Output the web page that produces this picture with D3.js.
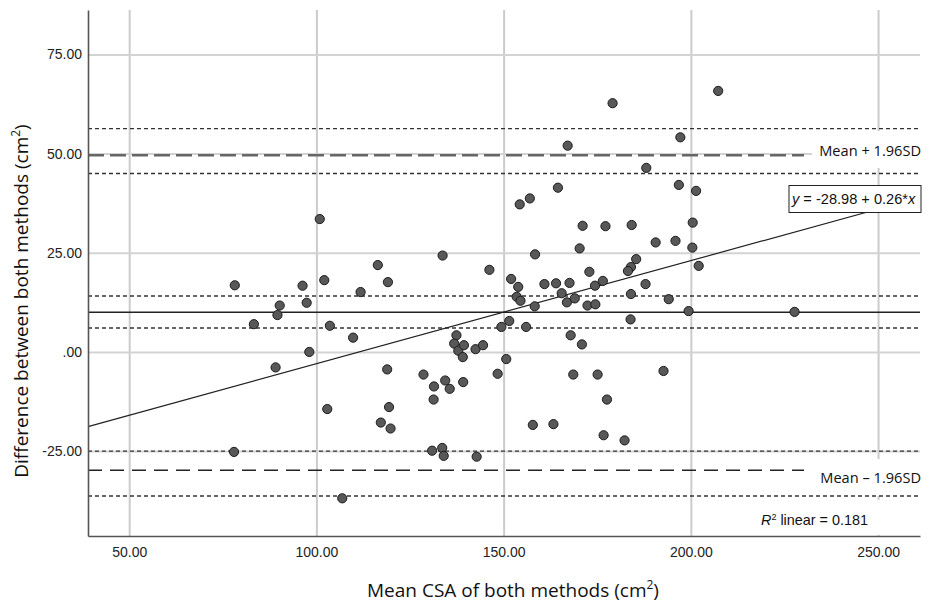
<!DOCTYPE html>
<html>
<head>
<meta charset="utf-8">
<script src="https://cdn.jsdelivr.net/npm/d3@7"></script>
<style>
  body { margin: 0; background: #fff; }
  text { font-family: "Liberation Sans", Arial, sans-serif; }
</style>
</head>
<body>
<div id="chart"></div>
<script>
// mean of both methods (x) and difference between methods (y)
var meanCSA = [78.2, 83.3, 89.6, 90.2, 96.3, 97.4, 78.0, 89.1, 98.1, 100.9,
  102.1, 103.6, 109.8, 111.8, 116.4, 119.1, 102.9, 118.9, 119.4, 117.2,
  119.8, 106.9, 128.6, 131.4, 131.3, 134.4, 135.6, 139.2, 137.4, 136.8,
  137.9, 139.4, 139.1, 142.5, 144.5, 130.9, 133.6, 134.0, 142.8, 148.4,
  150.7, 133.7, 146.2, 152.0, 153.9, 153.5, 154.5, 154.3, 157.0, 158.4,
  158.3, 151.5, 149.4, 156.0, 160.9, 164.0, 164.5, 167.1, 167.6, 165.5,
  166.9, 169.0, 170.3, 171.1, 172.9, 174.4, 176.5, 172.4, 174.5, 177.2,
  179.1, 157.8, 163.3, 167.9, 170.9, 168.6, 175.1, 177.6, 176.7, 207.3,
  197.2, 188.1, 196.8, 201.4, 184.2, 200.5, 190.6, 195.9, 200.4, 185.4,
  184.0, 183.2, 202.1, 187.9, 184.0, 194.1, 199.4, 227.7, 183.9, 192.7,
  182.3];
var diffCSA = [16.8, 7.0, 9.3, 11.7, 16.7, 12.4, -25.2, -3.9, 0.0, 33.5,
  18.1, 6.6, 3.6, 15.1, 21.9, 17.6, -14.4, -4.4, -13.9, -17.8,
  -19.3, -36.9, -5.7, -8.7, -12.0, -7.2, -9.3, -7.6, 4.2, 2.1,
  0.3, 1.7, -1.3, 0.7, 1.7, -24.9, -24.2, -26.2, -26.4, -5.5,
  -1.8, 24.3, 20.7, 18.4, 16.4, 13.9, 12.9, 37.2, 38.7, 24.6,
  11.5, 7.8, 6.3, 6.3, 17.1, 17.3, 41.4, 52.0, 17.4, 14.8,
  12.5, 13.5, 26.1, 31.8, 20.2, 16.7, 17.9, 11.7, 12.0, 31.7,
  62.7, -18.4, -18.2, 4.2, 1.9, -5.7, -5.7, -12.0, -21.0, 65.8,
  54.1, 46.4, 42.1, 40.6, 32.0, 32.6, 27.6, 28.0, 26.3, 23.4,
  21.4, 20.4, 21.7, 17.1, 14.6, 13.3, 10.3, 10.1, 8.2, -4.8,
  -22.3];

var xTicks = [50, 100, 150, 200, 250];
var yTicks = [-25, 0, 25, 50, 75];

var meanDiff = 10.0;
var loaUpper = 49.6, loaLower = -29.8;
var ciLines = [56.3, 45.0, 14.1, 6.05, -25.0, -36.3]; // dotted confidence bands
var fitIntercept = -28.98, fitSlope = 0.26, rSquared = "0.181";

var w = 933, h = 610,
    p = {"top": 10, "right": 13, "bottom": 74, "left": 88};

var points = meanCSA.map(function(d, i){ return {x: d, y: diffCSA[i]} });

var x = d3.scaleLinear().domain([39, 261.2]).range([p.left, w - p.right]);
var y = d3.scaleLinear().domain([-46.4, 86.2]).range([h - p.bottom, p.top]);

var svg = d3.select("#chart").append("svg")
  .attr("width", w)
  .attr("height", h)

// grid
svg.append("g")
  .attr("transform", "translate(0," + (h - p.bottom) + ")")
  .call(d3.axisBottom(x).tickValues(xTicks).tickSize(-(h - p.bottom - p.top)).tickFormat(""))
  .call(function(g){ g.select(".domain").remove() })
  .selectAll("line").attr("stroke", "#cbcbcb").attr("stroke-width", 2)

svg.append("g")
  .attr("transform", "translate(" + p.left + ",0)")
  .call(d3.axisLeft(y).tickValues(yTicks).tickSize(-(w - p.right - p.left)).tickFormat(""))
  .call(function(g){ g.select(".domain").remove() })
  .selectAll("line").attr("stroke", "#d3d3d3").attr("stroke-width", 2)

// white backgrounds behind right-hand labels
var labelBoxes = [[812, 131, 113, 37], [812, 459, 113, 37], [755, 500, 170, 35]];
svg.selectAll("rect.bg")
  .data(labelBoxes)
  .enter()
    .append("rect")
      .attr("class", "bg")
      .attr("x", function(d){ return d[0] })
      .attr("y", function(d){ return d[1] })
      .attr("width", function(d){ return d[2] })
      .attr("height", function(d){ return d[3] })
      .attr("fill", "#fff")

// dotted CI lines
svg.selectAll("line.ci")
  .data(ciLines)
  .enter()
    .append("line")
      .attr("class", "ci")
      .attr("x1", p.left)
      .attr("x2", w - p.right)
      .attr("y1", function(d){ return y(d) })
      .attr("y2", function(d){ return y(d) })
      .attr("stroke", "#333")
      .attr("stroke-width", 1.4)
      .attr("stroke-dasharray", "4,3")

// limits of agreement
svg.append("line")
  .attr("x1", p.left).attr("x2", 804)
  .attr("y1", y(loaUpper)).attr("y2", y(loaUpper))
  .attr("stroke", "#666").attr("stroke-width", 2.6)
  .attr("stroke-dasharray", "16,6")
svg.append("line")
  .attr("x1", p.left).attr("x2", 804)
  .attr("y1", y(loaLower)).attr("y2", y(loaLower))
  .attr("stroke", "#222").attr("stroke-width", 1.5)
  .attr("stroke-dasharray", "14,8")

// mean difference
svg.append("line")
  .attr("x1", p.left).attr("x2", w - p.right)
  .attr("y1", y(meanDiff)).attr("y2", y(meanDiff))
  .attr("stroke", "#222").attr("stroke-width", 1.6)

// fit line
var xd = x.domain();
svg.append("line")
  .attr("x1", x(xd[0])).attr("x2", x(xd[1]))
  .attr("y1", y(fitIntercept + fitSlope * xd[0]))
  .attr("y2", y(fitIntercept + fitSlope * xd[1]))
  .attr("stroke", "#222").attr("stroke-width", 1.2)

// axes
svg.append("g")
  .attr("transform", "translate(0," + (h - p.bottom) + ")")
  .call(d3.axisBottom(x).tickValues(xTicks).tickSize(0).tickPadding(11)
    .tickFormat(function(d){ return d.toFixed(2) }))
  .call(function(g){
    g.select(".domain").attr("stroke", "#555").attr("stroke-width", 1.6)
    g.selectAll("text").attr("font-size", 14).attr("fill", "#222")
      .style("font-family", "Liberation Sans, Arial, sans-serif")
  })

svg.append("g")
  .attr("transform", "translate(" + p.left + ",0)")
  .call(d3.axisLeft(y).tickValues(yTicks).tickSize(0).tickPadding(6)
    .tickFormat(function(d){ return d === 0 ? ".00" : d.toFixed(2) }))
  .call(function(g){
    g.select(".domain").attr("stroke", "#555").attr("stroke-width", 1.6)
    g.selectAll("text").attr("font-size", 14).attr("fill", "#222")
      .style("font-family", "Liberation Sans, Arial, sans-serif")
  })

// points
svg.selectAll("circle")
  .data(points)
  .enter()
    .append("circle")
      .attr("cx", function(d){ return x(d.x) })
      .attr("cy", function(d){ return y(d.y) })
      .attr("r", 4.6)
      .attr("fill", "#585858")
      .attr("stroke", "#1c1c1c")
      .attr("stroke-width", 1)

// equation box
svg.append("rect")
  .attr("x", 789).attr("y", 185.5)
  .attr("width", 132).attr("height", 27)
  .attr("fill", "#fff").attr("stroke", "#222").attr("stroke-width", 1)
var eq = svg.append("text").attr("x", 792).attr("y", 204).attr("font-size", 14.6).attr("fill", "#111")
eq.append("tspan").attr("font-style", "italic").text("y")
eq.append("tspan").text(" = " + fitIntercept.toFixed(2) + " + " + fitSlope.toFixed(2) + "*")
eq.append("tspan").attr("font-style", "italic").text("x")

// R squared
var r2 = svg.append("text").attr("x", 761).attr("y", 525).attr("font-size", 14.4).attr("fill", "#111")
r2.append("tspan").attr("font-style", "italic").text("R")
r2.append("tspan").attr("font-size", 9).attr("dy", -5).text("2")
r2.append("tspan").attr("dy", 5).text(" linear = " + rSquared)

// limit labels
svg.append("text")
  .attr("x", 921).attr("y", 156)
  .attr("text-anchor", "end")
  .style("font-family", "'Open Sans', sans-serif")
  .attr("font-size", 14.6).attr("fill", "#111")
  .text("Mean + 1.96SD")
svg.append("text")
  .attr("x", 921).attr("y", 483)
  .attr("text-anchor", "end")
  .style("font-family", "'Open Sans', sans-serif")
  .attr("font-size", 14.6).attr("fill", "#111")
  .text("Mean \u2013 1.96SD")

// axis titles
var xt = svg.append("text")
  .attr("x", 513).attr("y", 597)
  .attr("text-anchor", "middle")
  .style("font-family", "'Open Sans', sans-serif")
  .attr("font-size", 19).attr("fill", "#111")
xt.append("tspan").text("Mean CSA of both methods (cm")
xt.append("tspan").attr("font-size", 12).attr("dy", -8).text("2")
xt.append("tspan").attr("dy", 8).text(")")

var yt = svg.append("text")
  .attr("transform", "translate(28," + 301 + ") rotate(-90)")
  .attr("text-anchor", "middle")
  .style("font-family", "'Open Sans', sans-serif")
  .attr("font-size", 19).attr("fill", "#111")
yt.append("tspan").text("Difference between both methods (cm")
yt.append("tspan").attr("font-size", 12).attr("dy", -8).text("2")
yt.append("tspan").attr("dy", 8).text(")")
</script>
</body>
</html>
